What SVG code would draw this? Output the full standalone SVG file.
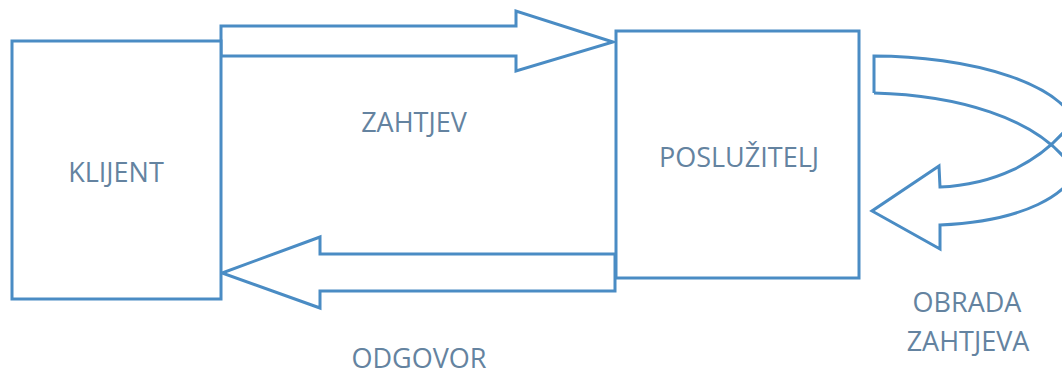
<svg xmlns="http://www.w3.org/2000/svg" width="1062" height="376" viewBox="0 0 1062 376">
<style>
.box{fill:#ffffff;stroke:#4a8cc4;stroke-width:3}
.arr{fill:#ffffff;stroke:#4a8cc4;stroke-width:3;stroke-linejoin:miter}
.ln{fill:none;stroke:#4a8cc4;stroke-width:3;stroke-linejoin:miter}
.lbl{font-family:"Open Sans","Liberation Sans",sans-serif;font-size:27px;fill:#6483a0;text-anchor:middle}
</style>
<rect width="1062" height="376" fill="#ffffff"/>
<g id="connectors">
<polygon class="arr" points="221,26 516,26 516,11 613,42 516,71 516,56 221,56"/>
<polygon class="arr" points="615,254 320,254 320,237 222,273 320,308 320,291 615,291"/>
<g id="loop">
<path class="ln" d="M874,93 L874,56 C960,56 1080,80 1082,145 C1084,200 1010,222 940,225 L940,249 L872,211 L939,166 L940,187 C990,185 1040,165 1072,122"/>
<path class="ln" d="M874,93 C950,95 1040,115 1075,172"/>
</g>
</g>
<g id="client">
<rect class="box" x="12" y="41" width="209" height="258"/>
<text class="lbl" x="116" y="182">KLIJENT</text>
</g>
<g id="server">
<rect class="box" x="616" y="31" width="243" height="247"/>
<text class="lbl" x="739" y="167">POSLUŽITELJ</text>
</g>
<g id="labels">
<text class="lbl" x="419" y="368">ODGOVOR</text>
<text class="lbl" x="414" y="132">ZAHTJEV</text>
<text class="lbl" x="967" y="312">OBRADA</text>
<text class="lbl" x="968" y="351">ZAHTJEVA</text>
</g>
</svg>
